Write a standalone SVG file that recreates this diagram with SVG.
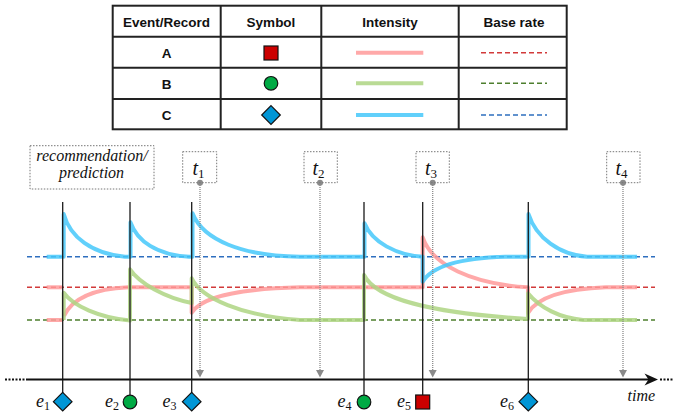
<svg xmlns="http://www.w3.org/2000/svg" width="673" height="415" viewBox="0 0 673 415">
  <style>
    .tbl { fill: none; stroke: #222; stroke-width: 2; }
    .th { font-family: "Liberation Sans", Arial, sans-serif; font-weight: bold; font-size: 13.5px; fill: #111; text-anchor: middle; }
    .it { font-family: "Liberation Serif", "Times New Roman", serif; font-style: italic; fill: #111; }
    .sub { font-family: "Liberation Serif", "Times New Roman", serif; font-style: normal; }
    .int { fill: none; stroke-width: 4; stroke-linejoin: round; stroke-opacity: 0.85; }
    .intA { stroke: #FF9A9A; }
    .intB { stroke: #AED582; }
    .intC { stroke: #45C8FA; }
    .base { fill: none; stroke-width: 1.4; stroke-dasharray: 5 3; }
    .baseA { stroke: #D23A3A; }
    .baseB { stroke: #4E7F2E; }
    .baseC { stroke: #2E6FBF; }
    .ev { stroke: #1a1a1a; stroke-width: 1.3; }
    .probe { stroke: #8a8a8a; stroke-width: 1.3; stroke-dasharray: 1 1; fill: none; }
    .head { fill: #8a8a8a; }
    .box { fill: none; stroke: #777; stroke-width: 1; stroke-dasharray: 1.5 1.5; }
    .symA { fill: #CC0000; stroke: #111; stroke-width: 1.2; }
    .symB { fill: #00AA44; stroke: #111; stroke-width: 1.2; }
    .symC { fill: #0096D6; stroke: #111; stroke-width: 1.2; }
  </style>

  <!-- legend table -->
  <g id="legend">
    <rect class="tbl" x="112.7" y="5.7" width="454" height="123.6"/>
    <line class="tbl" x1="112.7" y1="36.7" x2="566.7" y2="36.7"/>
    <line class="tbl" x1="112.7" y1="67.7" x2="566.7" y2="67.7"/>
    <line class="tbl" x1="112.7" y1="99" x2="566.7" y2="99"/>
    <line class="tbl" x1="220.7" y1="5.7" x2="220.7" y2="129.3"/>
    <line class="tbl" x1="321.3" y1="5.7" x2="321.3" y2="129.3"/>
    <line class="tbl" x1="458.7" y1="5.7" x2="458.7" y2="129.3"/>
    <text class="th" x="166.5" y="27.3">Event/Record</text>
    <text class="th" x="271" y="27.3">Symbol</text>
    <text class="th" x="390" y="27.3">Intensity</text>
    <text class="th" x="514" y="27.3">Base rate</text>
    <text class="th" x="166.5" y="57.7">A</text>
    <text class="th" x="166.5" y="88.7">B</text>
    <text class="th" x="166.5" y="120.3">C</text>
    <rect class="symA" x="264" y="46" width="14" height="14"/>
    <circle class="symB" cx="271" cy="83.3" r="6.8"/>
    <path class="symC" d="M271,105.7 L280.3,115 L271,124.3 L261.7,115 Z"/>
    <line class="int intA" x1="356" y1="52.7" x2="423.3" y2="52.7"/>
    <line class="int intB" x1="356" y1="83.3" x2="423.3" y2="83.3"/>
    <line class="int intC" x1="356" y1="115" x2="423.3" y2="115"/>
    <line class="base baseA" x1="481" y1="52.7" x2="547" y2="52.7"/>
    <line class="base baseB" x1="481" y1="83.3" x2="547" y2="83.3"/>
    <line class="base baseC" x1="481" y1="115" x2="547" y2="115"/>
  </g>

  <!-- base rates -->
  <g id="base-rates">
    <line class="base baseC" x1="27" y1="256.7" x2="655" y2="256.7"/>
    <line class="base baseA" x1="27" y1="287.3" x2="655" y2="287.3"/>
    <line class="base baseB" x1="27" y1="320" x2="655" y2="320"/>
  </g>

  <!-- intensity curves -->
  <g id="intensity-A">
    <path class="int intA" d="M46.7,287.3 H62.7"/>
    <path class="int intA" d="M46.7,320 H62.7"/>
    <path class="int intA" d="M64,316 C72,299 92,289 128,287.3 H191.7 V312.7 C201,298 232,289 300,287.3 H422.7 V237.3 C432,265 472,284 528,287.3 V313 C537,298 562,289 606,287.3 H637"/>
  </g>
  <g id="intensity-B">
    <path class="int intB" d="M63.7,320 V292.7 C73,306 100,318 130,320.5 V269.3 C140,284 166,298 191.7,303 V278.3 C201,298 242,316 300,320 H364 V275 C376,299 430,313 528,319 V293.3 C540,308 560,318 583,320 H637"/>
  </g>
  <g id="intensity-C">
    <path class="int intC" d="M46.7,256.7 H63.7 V214 C70,237 92,254 125,256.7 H130.5 V222.3 C137,241 157,255 189,256.7 H192.5 V213.3 C203,240 242,256 300,256.7 H364.5 V223.3 C372,242 396,255 422.7,256.7 V281.7 C432,266 462,258 505,256.7 H528.5 V214 C536,238 560,255 587,256.7 H637"/>
  </g>

  <!-- connectors: event lines, probe lines and time axis -->
  <g id="connectors">
    <line class="ev" x1="62.7" y1="202" x2="62.7" y2="394"/>
    <line class="ev" x1="130" y1="202" x2="130" y2="395"/>
    <line class="ev" x1="191.7" y1="202" x2="191.7" y2="394"/>
    <line class="ev" x1="364" y1="202" x2="364" y2="395"/>
    <line class="ev" x1="422.7" y1="202" x2="422.7" y2="395" stroke="#444"/>
    <line class="ev" x1="528.3" y1="202" x2="528.3" y2="394" stroke="#444"/>

    <line class="probe" x1="200" y1="183" x2="200" y2="371"/>
    <line class="probe" x1="320" y1="183" x2="320" y2="371"/>
    <line class="probe" x1="432.7" y1="183" x2="432.7" y2="371"/>
    <line class="probe" x1="623" y1="183" x2="623" y2="371"/>
    <path class="head" d="M196,370 L204,370 L200,377.5 Z"/>
    <path class="head" d="M316,370 L324,370 L320,377.5 Z"/>
    <path class="head" d="M428.7,370 L436.7,370 L432.7,377.5 Z"/>
    <path class="head" d="M619,370 L627,370 L623,377.5 Z"/>
    <circle class="head" cx="200" cy="182.7" r="3"/>
    <circle class="head" cx="320" cy="182.7" r="3"/>
    <circle class="head" cx="432.7" cy="182.7" r="3"/>
    <circle class="head" cx="623" cy="182.7" r="3"/>

    <line x1="5" y1="379.5" x2="27" y2="379.5" stroke="#111" stroke-width="2" stroke-dasharray="2 1.5"/>
    <line x1="27" y1="379.5" x2="650" y2="379.5" stroke="#111" stroke-width="2"/>
    <path d="M658,379.5 L644.5,373.5 L648.5,379.5 L644.5,385.5 Z" fill="#111"/>
    <line x1="660" y1="379.5" x2="673" y2="379.5" stroke="#111" stroke-width="2" stroke-dasharray="2 1.5"/>
    <text class="it" x="627.5" y="401" font-size="16">time</text>
  </g>

  <!-- prediction label -->
  <g id="prediction-label">
    <rect class="box" x="30" y="145.7" width="124" height="43.3"/>
    <text class="it" x="92" y="161" font-size="16" text-anchor="middle">recommendation/</text>
    <text class="it" x="91.5" y="178" font-size="16" text-anchor="middle">prediction</text>
  </g>

  <!-- query times -->
  <g id="t1">
    <rect class="box" x="182.7" y="151.7" width="34" height="31"/>
    <text class="it" x="192.5" y="174.5" font-size="20">t<tspan class="sub" font-size="13" dy="3">1</tspan></text>
  </g>
  <g id="t2">
    <rect class="box" x="304" y="151.7" width="33.3" height="31"/>
    <text class="it" x="312.5" y="174.5" font-size="20">t<tspan class="sub" font-size="13" dy="3">2</tspan></text>
  </g>
  <g id="t3">
    <rect class="box" x="416" y="151.7" width="33.3" height="31"/>
    <text class="it" x="425" y="174.5" font-size="20">t<tspan class="sub" font-size="13" dy="3">3</tspan></text>
  </g>
  <g id="t4">
    <rect class="box" x="606.7" y="151.7" width="33.3" height="31"/>
    <text class="it" x="615.5" y="174.5" font-size="20">t<tspan class="sub" font-size="13" dy="3">4</tspan></text>
  </g>

  <!-- events on the time axis -->
  <g id="e1">
    <path class="symC" d="M62.7,392.4 L72,401.7 L62.7,411 L53.4,401.7 Z"/>
    <text class="it" x="36" y="406.5" font-size="18">e<tspan class="sub" font-size="12" dy="3">1</tspan></text>
  </g>
  <g id="e2">
    <circle class="symB" cx="130" cy="402" r="6.8"/>
    <text class="it" x="105" y="406.5" font-size="18">e<tspan class="sub" font-size="12" dy="3">2</tspan></text>
  </g>
  <g id="e3">
    <path class="symC" d="M191.7,392.4 L201,401.7 L191.7,411 L182.4,401.7 Z"/>
    <text class="it" x="162.5" y="406.5" font-size="18">e<tspan class="sub" font-size="12" dy="3">3</tspan></text>
  </g>
  <g id="e4">
    <circle class="symB" cx="364" cy="402" r="6.8"/>
    <text class="it" x="337.5" y="406.5" font-size="18">e<tspan class="sub" font-size="12" dy="3">4</tspan></text>
  </g>
  <g id="e5">
    <rect class="symA" x="415.7" y="395" width="14" height="14"/>
    <text class="it" x="397" y="406.5" font-size="18">e<tspan class="sub" font-size="12" dy="3">5</tspan></text>
  </g>
  <g id="e6">
    <path class="symC" d="M528.3,392.4 L537.6,401.7 L528.3,411 L519,401.7 Z"/>
    <text class="it" x="500" y="406.5" font-size="18">e<tspan class="sub" font-size="12" dy="3">6</tspan></text>
  </g>
</svg>
